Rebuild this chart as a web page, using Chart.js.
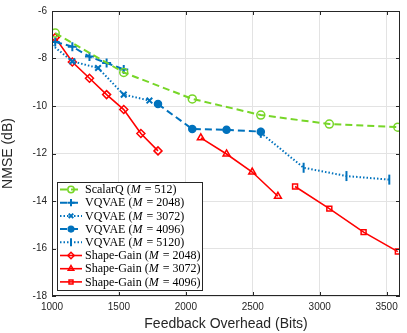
<!DOCTYPE html>
<html>
<head>
<meta charset="utf-8">
<script src="https://cdn.jsdelivr.net/npm/chart.js@4.4.1/dist/chart.umd.min.js"></script>
<style>
  html, body { margin: 0; padding: 0; background: #fff; }
  #wrap { width: 407px; height: 333px; }
</style>
</head>
<body>
<div id="wrap"><canvas id="myChart" width="407" height="333"></canvas></div>
<script>
// values
const xTicks = [1000, 1500, 2000, 2500, 3000, 3500];
const yTicks = [-18, -16, -14, -12, -10, -8, -6];

const scalarBits = [1024, 1536, 2048, 2560, 3072, 3584];
const scalarNmse = [-6.93, -8.59, -9.7, -10.38, -10.76, -10.89];

const vq2048Bits = [1024, 1152, 1280, 1408, 1536];
const vq2048Nmse = [-7.3, -7.5, -7.92, -8.19, -8.46];

const vq3072Bits = [960, 1152, 1344, 1536, 1728];
const vq3072Nmse = [-7.25, -8.12, -8.4, -9.52, -9.77];

const vq4096Bits = [1792, 2048, 2304, 2560];
const vq4096Nmse = [-9.92, -10.97, -11.0, -11.08];

const vq5120Bits = [2560, 2880, 3200, 3520];
const vq5120Nmse = [-11.13, -12.6, -12.95, -13.1];

const sg2048Bits = [1024, 1152, 1280, 1408, 1536, 1664, 1792];
const sg2048Nmse = [-7.12, -8.15, -8.83, -9.52, -10.15, -11.16, -11.89];

const sg3072Bits = [2112, 2304, 2496, 2688];
const sg3072Nmse = [-11.34, -12.02, -12.78, -13.8];

const sg4096Bits = [2816, 3072, 3328, 3584];
const sg4096Nmse = [-13.39, -14.32, -15.31, -16.13];

const green = "rgb(119, 214, 40)";
const blue = "rgb(0, 114, 189)";
const red = "rgb(255, 0, 0)";

function pts(xs, ys) {
  return xs.map((x, i) => ({ x: x, y: ys[i] }));
}

function series(name, m, xs, ys, color, dash, marker, extra) {
  return Object.assign({
    label: name,
    mLabel: m,
    data: pts(xs, ys),
    borderColor: color,
    backgroundColor: color,
    borderWidth: 1.6,
    borderDash: dash,
    pointStyle: marker,
    pointRadius: 3.5,
    pointBorderWidth: 1.5,
    pointBackgroundColor: "rgba(0,0,0,0)",
    pointBorderColor: color,
    tension: 0,
  }, extra || {});
}

let datasets = [
  series("ScalarQ", "512", scalarBits, scalarNmse, green, [7, 4], "circle", { borderWidth: 2, pointRadius: 4 }),
  series("VQVAE", "2048", vq2048Bits, vq2048Nmse, blue, [7, 4], "cross", { borderWidth: 2, pointRadius: 4.5, pointBorderWidth: 2 }),
  series("VQVAE", "3072", vq3072Bits, vq3072Nmse, blue, [1.5, 2], "crossRot", { borderWidth: 2, pointRadius: 4, pointBorderWidth: 2 }),
  series("VQVAE", "4096", vq4096Bits, vq4096Nmse, blue, [7, 4], "circle", { borderWidth: 2, pointRadius: 3.5, pointBackgroundColor: blue }),
  series("VQVAE", "5120", vq5120Bits, vq5120Nmse, blue, [1.5, 2], "line", { borderWidth: 2, pointRadius: 5, pointBorderWidth: 2, pointRotation: 90 }),
  series("Shape-Gain", "2048", sg2048Bits, sg2048Nmse, red, [], "rectRot", { pointRadius: 4 }),
  series("Shape-Gain", "3072", sg3072Bits, sg3072Nmse, red, [], "triangle", { pointRadius: 4 }),
  series("Shape-Gain", "4096", sg4096Bits, sg4096Nmse, red, [], "rect", { pointRadius: 3.5 }),
];

// MATLAB style box with inward ticks
const framePlugin = {
  id: "frame",
  afterDatasetsDraw(chart) {
    const ctx = chart.ctx;
    const a = chart.chartArea;
    const xs = chart.scales.x, ys = chart.scales.y;
    ctx.save();
    ctx.strokeStyle = "#262626";
    ctx.lineWidth = 1;
    ctx.strokeRect(a.left + 0.5, a.top + 0.5, a.right - a.left - 1, a.bottom - a.top - 1);
    ctx.beginPath();
    xTicks.forEach((v) => {
      let p = Math.round(xs.getPixelForValue(v)) + 0.5;
      ctx.moveTo(p, a.bottom); ctx.lineTo(p, a.bottom - 4);
      ctx.moveTo(p, a.top); ctx.lineTo(p, a.top + 4);
    });
    yTicks.forEach((v) => {
      let p = Math.round(ys.getPixelForValue(v)) + 0.5;
      ctx.moveTo(a.left, p); ctx.lineTo(a.left + 4, p);
      ctx.moveTo(a.right, p); ctx.lineTo(a.right - 4, p);
    });
    ctx.stroke();
    ctx.restore();
  },
};

// legend with italic M, drawn by hand
const legendPlugin = {
  id: "mlegend",
  afterDraw(chart) {
    const ctx = chart.ctx;
    const bx = 57, by = 182, bw = 145, bh = 108, row = 13.2;
    ctx.save();
    ctx.fillStyle = "#fff";
    ctx.fillRect(bx, by, bw, bh);
    ctx.strokeStyle = "#262626";
    ctx.lineWidth = 1;
    ctx.strokeRect(bx + 0.5, by + 0.5, bw, bh);
    chart.data.datasets.forEach((ds, i) => {
      let y = by + 7.5 + i * row;
      ctx.save();
      ctx.strokeStyle = ds.borderColor;
      ctx.lineWidth = ds.borderWidth;
      ctx.setLineDash(ds.borderDash);
      ctx.beginPath();
      ctx.moveTo(bx + 3, y);
      ctx.lineTo(bx + 25, y);
      ctx.stroke();
      ctx.setLineDash([]);
      ctx.lineWidth = ds.pointBorderWidth;
      ctx.fillStyle = ds.pointBackgroundColor;
      Chart.helpers.drawPoint(ctx, {
        pointStyle: ds.pointStyle,
        rotation: ds.pointRotation || 0,
        radius: ds.pointRadius * 0.8,
        borderWidth: ds.pointBorderWidth,
      }, bx + 14, y);
      ctx.restore();

      ctx.fillStyle = "#000";
      ctx.textBaseline = "middle";
      let tx = bx + 28;
      let parts = [
        [ds.label + " (", "12px 'Liberation Serif'"],
        ["M", "italic 12px 'Liberation Serif'"],
        [" = " + ds.mLabel + ")", "12px 'Liberation Serif'"],
      ];
      parts.forEach((p) => {
        ctx.font = p[1];
        ctx.fillText(p[0], tx, y + 0.5);
        tx += ctx.measureText(p[0]).width + (p[0] === "M" ? 1 : 0);
      });
    });
    ctx.restore();
  },
};

new Chart(document.getElementById("myChart"), {
  type: "line",
  data: { datasets: datasets },
  plugins: [framePlugin, legendPlugin],
  options: {
    responsive: false,
    animation: false,
    layout: { padding: { top: 5, right: 3, left: 0, bottom: 0 } },
    plugins: {
      legend: { display: false },
      tooltip: { enabled: false },
    },
    scales: {
      x: {
        type: "linear",
        min: 1000,
        max: 3600,
        afterBuildTicks: (s) => { s.ticks = xTicks.map((v) => ({ value: v })); },
        afterFit: (s) => { s.height = 37; },
        grid: { color: "#e3e3e3", drawTicks: false },
        border: { display: false },
        ticks: {
          color: "#262626",
          padding: 5,
          callback: (v) => String(v),
          font: { family: "'Liberation Sans'", size: 10 },
        },
        title: {
          display: true,
          text: "Feedback Overhead (Bits)",
          color: "#262626",
          padding: { top: 1, bottom: 0 },
          font: { family: "'Liberation Sans'", size: 14 },
        },
      },
      y: {
        type: "linear",
        min: -18,
        max: -6,
        afterBuildTicks: (s) => { s.ticks = yTicks.map((v) => ({ value: v })); },
        afterFit: (s) => { s.width = 52; },
        grid: { color: "#e3e3e3", drawTicks: false },
        border: { display: false },
        ticks: {
          color: "#262626",
          padding: 5,
          callback: (v) => String(v),
          font: { family: "'Liberation Sans'", size: 10 },
        },
        title: {
          display: true,
          text: "NMSE (dB)",
          color: "#262626",
          padding: { top: 0, bottom: 4 },
          font: { family: "'Liberation Sans'", size: 14 },
        },
      },
    },
  },
});
</script>
</body>
</html>
